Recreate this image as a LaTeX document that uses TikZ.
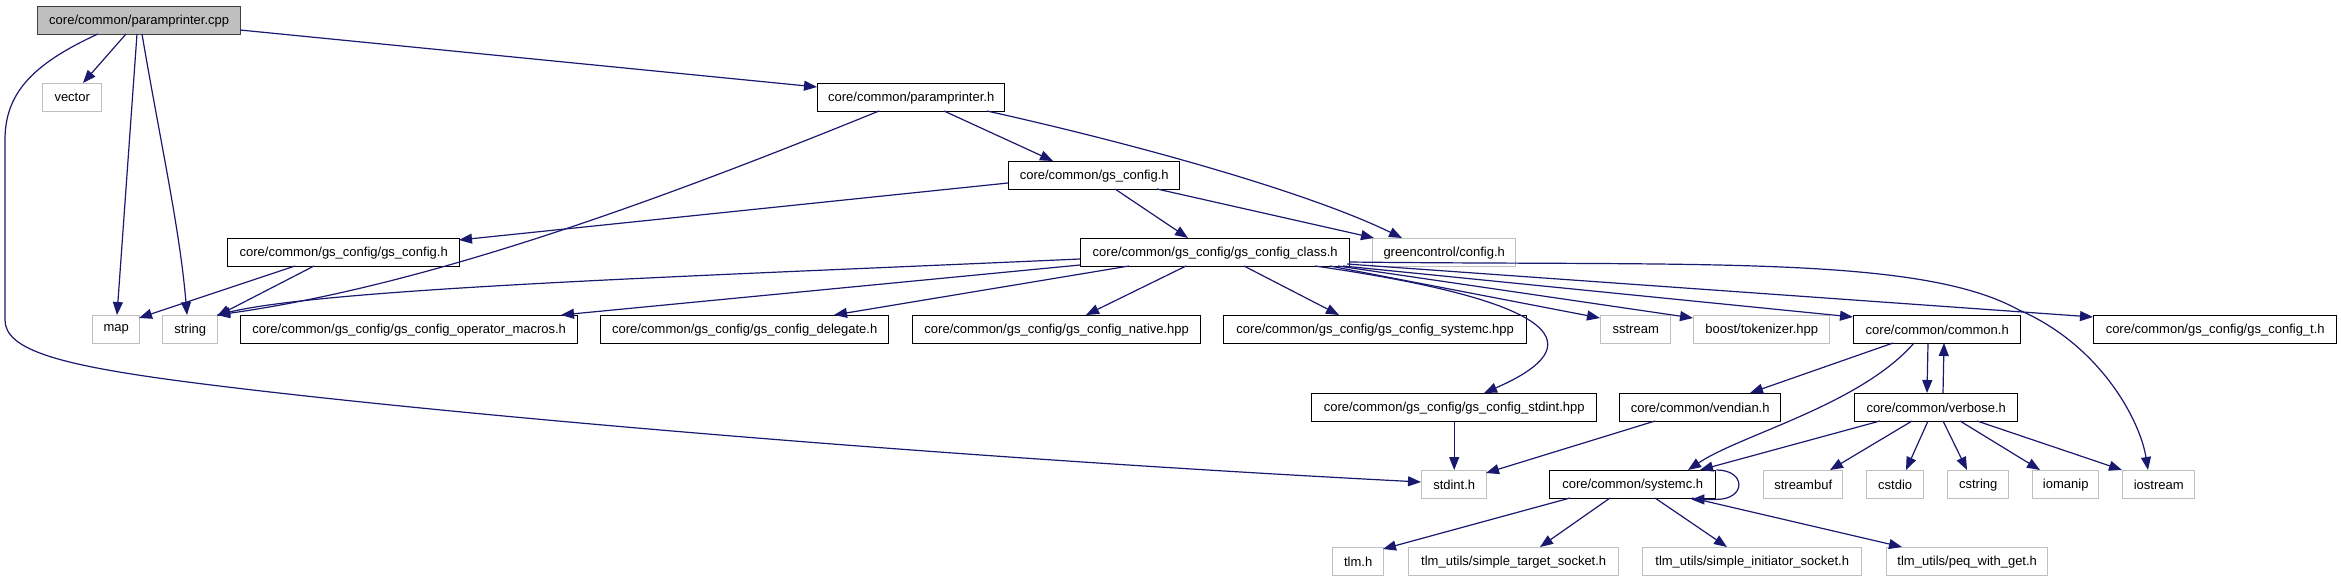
\documentclass[tikz,border=0pt]{standalone}
\usepackage{fontspec}
\setmainfont{Liberation Sans}
\usetikzlibrary{arrows.meta}
\definecolor{edgec}{HTML}{191970}
\definecolor{extc}{HTML}{BFBFBF}
\definecolor{rootfill}{HTML}{BFBFBF}
\definecolor{rootdraw}{HTML}{404040}
\tikzset{
  nodebox/.style={draw, line width=1.4pt, inner sep=0pt, font=\fontsize{13}{15}\selectfont, anchor=north west, minimum height=28pt},
  docnode/.style={nodebox, draw=black, fill=white},
  extnode/.style={nodebox, draw=extc, fill=white},
  rootnode/.style={nodebox, draw=rootdraw, fill=rootfill},
  edge/.style={draw=edgec, line width=1.2pt, -{Triangle[length=13pt,width=10pt]}},
}
\begin{document}
\begin{tikzpicture}[x=1pt,y=-1pt]
\useasboundingbox[fill=white] (0,0) rectangle (2341,581);
% nodes
\node[rootnode, minimum width=203pt] (cpp) at (37,6) {core/common/paramprinter.cpp};
\node[extnode, minimum width=59pt] (vector) at (42,83) {vector};
\node[docnode, minimum width=187pt] (ph) at (817,83) {core/common/paramprinter.h};
\node[docnode, minimum width=171pt] (gsc) at (1008,161) {core/common/gs\_config.h};
\node[docnode, minimum width=232pt] (gsgs) at (227,238) {core/common/gs\_config/gs\_config.h};
\node[docnode, minimum width=269pt] (class) at (1080,238) {core/common/gs\_config/gs\_config\_class.h};
\node[extnode, minimum width=143pt] (gc) at (1372,238) {greencontrol/config.h};
\node[extnode, minimum width=47pt] (map) at (92,315) {map};
\node[extnode, minimum width=55pt] (string) at (162,315) {string};
\node[docnode, minimum width=337pt] (opm) at (240,315) {core/common/gs\_config/gs\_config\_operator\_macros.h};
\node[docnode, minimum width=288pt] (del) at (600,315) {core/common/gs\_config/gs\_config\_delegate.h};
\node[docnode, minimum width=288pt] (nat) at (912,315) {core/common/gs\_config/gs\_config\_native.hpp};
\node[docnode, minimum width=303pt] (sysh) at (1223,315) {core/common/gs\_config/gs\_config\_systemc.hpp};
\node[extnode, minimum width=70pt] (sstream) at (1600,315) {sstream};
\node[extnode, minimum width=136pt] (boost) at (1693,315) {boost/tokenizer.hpp};
\node[docnode, minimum width=167pt] (common) at (1853,315) {core/common/common.h};
\node[docnode, minimum width=243pt] (gst) at (2093,315) {core/common/gs\_config/gs\_config\_t.h};
\node[docnode, minimum width=285pt] (stdhpp) at (1311,393) {core/common/gs\_config/gs\_config\_stdint.hpp};
\node[docnode, minimum width=161pt] (vendian) at (1619,393) {core/common/vendian.h};
\node[docnode, minimum width=163pt] (verbose) at (1854,393) {core/common/verbose.h};
\node[extnode, minimum width=65pt] (stdint) at (1421,470) {stdint.h};
\node[docnode, minimum width=166pt] (sc) at (1549,470) {core/common/systemc.h};
\node[extnode, minimum width=79pt] (streambuf) at (1763,470) {streambuf};
\node[extnode, minimum width=57pt] (cstdio) at (1866,470) {cstdio};
\node[extnode, minimum width=61pt] (cstring) at (1947,470) {cstring};
\node[extnode, minimum width=66pt] (iomanip) at (2032,470) {iomanip};
\node[extnode, minimum width=72pt] (iostream) at (2122,470) {iostream};
\node[extnode, minimum width=51pt] (tlm) at (1332,547) {tlm.h};
\node[extnode, minimum width=210pt] (target) at (1408,547) {tlm\_utils/simple\_target\_socket.h};
\node[extnode, minimum width=219pt] (initiator) at (1642,547) {tlm\_utils/simple\_initiator\_socket.h};
\node[extnode, minimum width=161pt] (peq) at (1886,547) {tlm\_utils/peq\_with\_get.h};
% edges from paramprinter.cpp
\draw[edge] ([shift={(89,28)}]cpp.north west) -- ([shift={(41,0)}]vector.north west);
\draw[edge] ([shift={(100,28)}]cpp.north west) -- ([shift={(25,0)}]map.north west);
\draw[edge] ([shift={(105,28)}]cpp.north west) .. controls (160,140) and (180,230) .. ([shift={(25,0)}]string.north west);
\draw[edge] ([shift={(203,24)}]cpp.north west) -- ([shift={(0,4)}]ph.north west);
\draw[edge] ([shift={(61,28)}]cpp.north west) .. controls (30,65) and (5,95) .. (5,140) -- (5,320)
   .. controls (5,350) and (60,365) .. (180,381) .. controls (400,410) and (900,455) .. ([shift={(0,12)}]stdint.north west);
% paramprinter.h
\draw[edge] ([shift={(62,28)}]ph.north west) .. controls (660,200) and (430,285) .. ([shift={(55,0)}]string.north west);
\draw[edge] ([shift={(127,28)}]ph.north west) -- ([shift={(45,0)}]gsc.north west);
\draw[edge] ([shift={(170,28)}]ph.north west) .. controls (1140,145) and (1310,193) .. ([shift={(30,0)}]gc.north west);
% gs_config.h
\draw[edge] ([shift={(0,22)}]gsc.north west) -- ([shift={(232,2)}]gsgs.north west);
\draw[edge] ([shift={(107,28)}]gsc.north west) -- ([shift={(108,0)}]class.north west);
\draw[edge] ([shift={(149,28)}]gsc.north west) -- ([shift={(2,0)}]gc.north west);
% gs_config/gs_config.h
\draw[edge] ([shift={(68,28)}]gsgs.north west) -- ([shift={(47,3)}]map.north west);
\draw[edge] ([shift={(87,28)}]gsgs.north west) -- ([shift={(55,1)}]string.north west);
% gs_config_class.h
\draw[edge] ([shift={(0,21)}]class.north west) .. controls (700,276) and (330,288) .. ([shift={(55,0)}]string.north west);
\draw[edge] ([shift={(0,27)}]class.north west) -- ([shift={(321,0)}]opm.north west);
\draw[edge] ([shift={(49,28)}]class.north west) -- ([shift={(234,0)}]del.north west);
\draw[edge] ([shift={(106,28)}]class.north west) -- ([shift={(174,0)}]nat.north west);
\draw[edge] ([shift={(164,28)}]class.north west) -- ([shift={(116,0)}]sysh.north west);
\draw[edge] ([shift={(235,28)}]class.north west) .. controls (1620,310) and (1560,360) .. ([shift={(173,0)}]stdhpp.north west);
\draw[edge] ([shift={(250,28)}]class.north west) -- ([shift={(0,3)}]sstream.north west);
\draw[edge] ([shift={(258,28)}]class.north west) -- ([shift={(0,3)}]boost.north west);
\draw[edge] ([shift={(263,28)}]class.north west) -- ([shift={(0,2)}]common.north west);
\draw[edge] ([shift={(267,26)}]class.north west) -- ([shift={(0,2)}]gst.north west);
\draw[edge] ([shift={(269,24)}]class.north west) .. controls (1700,266) and (1920,255) .. (2019,310)
   .. controls (2100,345) and (2140,420) .. ([shift={(26,0)}]iostream.north west);
% common.h
\draw[edge] ([shift={(40,28)}]common.north west) -- ([shift={(131,0)}]vendian.north west);
\draw[edge] ([shift={(61,28)}]common.north west) .. controls (1860,405) and (1740,435) .. ([shift={(139,0)}]sc.north west);
\draw[edge] ([shift={(75,28)}]common.north west) -- ([shift={(73,0)}]verbose.north west);
\draw[edge] ([shift={(89,0)}]verbose.north west) -- ([shift={(91,28)}]common.north west);
% stdint
\draw[edge] (stdhpp.south) -- (stdint.north);
\draw[edge] ([shift={(36,28)}]vendian.north west) -- ([shift={(65,3)}]stdint.north west);
% verbose.h
\draw[edge] ([shift={(26,28)}]verbose.north west) -- ([shift={(151,0)}]sc.north west);
\draw[edge] ([shift={(58,28)}]verbose.north west) -- ([shift={(67,0)}]streambuf.north west);
\draw[edge] ([shift={(74,28)}]verbose.north west) -- ([shift={(40,0)}]cstdio.north west);
\draw[edge] ([shift={(89,28)}]verbose.north west) -- ([shift={(20,0)}]cstring.north west);
\draw[edge] ([shift={(106,28)}]verbose.north west) -- ([shift={(8,0)}]iomanip.north west);
\draw[edge] ([shift={(123,28)}]verbose.north west) -- (iostream.north west);
% systemc.h
\draw[edge] (sc.north east) .. controls +(30,0) and +(30,0) .. (sc.south east) -- ([shift={(-25,0)}]sc.south east);
\draw[edge] ([shift={(21,28)}]sc.north west) -- ([shift={(51,2)}]tlm.north west);
\draw[edge] ([shift={(61,28)}]sc.north west) -- ([shift={(132,0)}]target.north west);
\draw[edge] ([shift={(106,28)}]sc.north west) -- ([shift={(85,0)}]initiator.north west);
\draw[edge] ([shift={(143,28)}]sc.north west) -- ([shift={(16,0)}]peq.north west);
\end{tikzpicture}
\end{document}
